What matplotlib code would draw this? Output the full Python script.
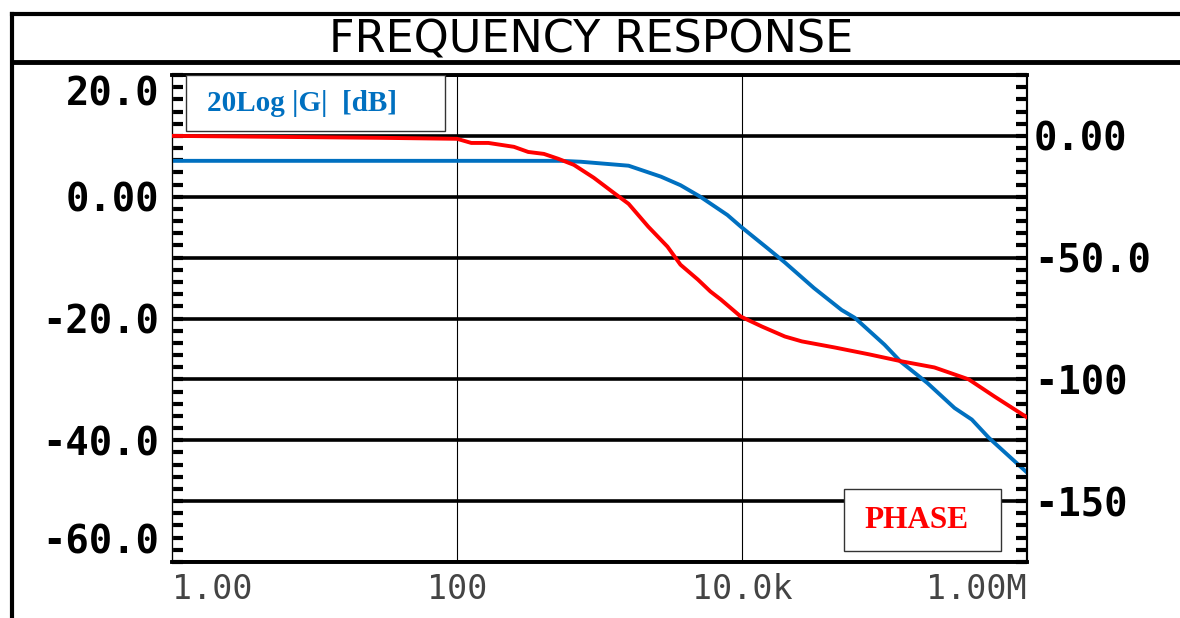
import matplotlib
matplotlib.use('Agg')
import matplotlib.pyplot as plt
from matplotlib.lines import Line2D
from matplotlib.patches import Rectangle
from matplotlib.ticker import MultipleLocator, NullLocator

# gain curve (left axis, dB)
gain_freq = [1, 540, 740, 1600, 2700, 3700, 5100, 7900, 9800, 15000, 20000,
             32000, 50000, 62000, 1.0e5, 1.3e5, 2.0e5, 3.1e5, 4.1e5, 5.4e5, 1.0e6]
gain_db = [5.9, 5.9, 5.75, 5.1, 3.3, 1.9, 0.0, -3.0, -4.9, -8.4, -10.8,
           -15.0, -18.6, -19.9, -24.3, -27.1, -30.6, -34.7, -36.6, -39.6, -45.3]

# phase curve (right axis, degrees)
phase_freq = [1, 29, 100, 126, 166, 251, 316, 407, 513, 661, 912, 1260, 1600,
              2200, 3000, 3700, 4900, 6000, 7100, 9800, 13800, 20000, 26300,
              44700, 77600, 1.32e5, 2.24e5, 3.9e5, 5.9e5, 1.0e6]
phase_deg = [0.0, -0.8, -1.2, -2.9, -2.9, -4.5, -6.6, -7.4, -9.4, -11.9, -17.2,
             -23.4, -27.9, -37.3, -45.5, -52.9, -59.0, -63.9, -67.2, -74.2,
             -78.3, -82.4, -84.4, -86.9, -89.7, -92.6, -95.1, -100.0, -107.0,
             -115.6]

x_ticks = [1, 100, 1e4, 1e6]
x_labels = ['1.00', '100', '10.0k', '1.00M']
left_ticks = [20, 10, 0, -10, -20, -30, -40, -50, -60]
left_labels = ['20.0', '', '0.00', '', '-20.0', '', '-40.0', '', '-60.0']
right_ticks = [0, -50, -100, -150]
right_labels = ['0.00', '-50.0', '-100', '-150']

blue = '#0070C0'
red = '#FF0000'
mono = 'DejaVu Sans Mono'

fig = plt.figure(figsize=(11.8, 6.18), dpi=100)
ax = fig.add_axes([172 / 1180, 56 / 618, 855 / 1180, 487 / 618])
ax2 = ax.twinx()

# left axis: gain
ax.set_xscale('log')
ax.set_xlim(1, 1e6)
ax.set_ylim(-60, 20)
ax.plot(gain_freq, gain_db, color=blue, lw=2.8, zorder=3)
ax.set_yticks(left_ticks, left_labels)
ax.yaxis.set_minor_locator(MultipleLocator(2))
ax.grid(axis='y', which='major', color='black', lw=2.6)
ax.set_axisbelow(True)
for xv in [100, 1e4]:
    ax.axvline(xv, color='black', lw=0.8, zorder=1)
ax.set_xticks(x_ticks, x_labels)
ax.xaxis.set_minor_locator(NullLocator())
ax.tick_params(axis='x', which='both', length=0, pad=8, labelsize=24,
               labelcolor='#444444')
ax.tick_params(axis='y', which='both', direction='in', length=8, width=3,
               labelsize=28, pad=9, right=False)
for lbl in ax.get_xticklabels():
    lbl.set_fontfamily(mono)
for lbl in ax.get_yticklabels():
    lbl.set_fontfamily(mono)
    lbl.set_fontweight('bold')
ax.get_xticklabels()[0].set_ha('left')
ax.get_xticklabels()[-1].set_ha('right')
ax.get_yticklabels()[0].set_va('top')
ax.get_yticklabels()[-1].set_va('bottom')

# right axis: phase
ax2.set_ylim(-175, 25)
ax2.plot(phase_freq, phase_deg, color=red, lw=2.8, zorder=4)
ax2.set_yticks(right_ticks, right_labels)
ax2.yaxis.set_minor_locator(MultipleLocator(5))
ax2.tick_params(axis='y', which='both', direction='in', length=8, width=3,
                labelsize=28, pad=5)
for lbl in ax2.get_yticklabels():
    lbl.set_fontfamily(mono)
    lbl.set_fontweight('bold')

# spines
ax.spines['left'].set_color('#777777')
ax.spines['left'].set_linewidth(1)
for a in (ax, ax2):
    a.spines['bottom'].set_linewidth(2.6)
    a.spines['top'].set_linewidth(2.6)
    a.spines['right'].set_linewidth(1.5)

# label boxes
ax2.add_patch(Rectangle((0.0164, 0.885), 0.303, 0.115, transform=ax2.transAxes,
                        facecolor='white', edgecolor='#333333', lw=1, zorder=5))
ax2.text(0.041, 0.9425, '20Log |G|  [dB]', transform=ax2.transAxes, color=blue,
         fontsize=21, fontweight='bold', family='Liberation Serif',
         va='center', ha='left', zorder=6)
ax2.add_patch(Rectangle((0.786, 0.0226), 0.1836, 0.1274, transform=ax2.transAxes,
                        facecolor='white', edgecolor='#333333', lw=1, zorder=5))
ax2.text(0.871, 0.086, 'PHASE', transform=ax2.transAxes, color=red,
         fontsize=22.5, fontweight='bold', family='Liberation Serif',
         va='center', ha='center', zorder=6)

# outer frame and title strip
H = 618.0
W = 1180.0
fig.add_artist(Line2D([12 / W, 12 / W], [0, 1 - 14 / H], color='black', lw=3))
fig.add_artist(Line2D([12 / W, 1], [1 - 14 / H, 1 - 14 / H], color='black', lw=3))
fig.add_artist(Line2D([12 / W, 1], [1 - 62 / H, 1 - 62 / H], color='black', lw=3.5))
fig.text(591 / W, 1 - 53 / H, 'FREQUENCY RESPONSE', ha='center', va='baseline',
         fontsize=32, family='DejaVu Sans', color='black')

fig.savefig('out.png', dpi=100)
